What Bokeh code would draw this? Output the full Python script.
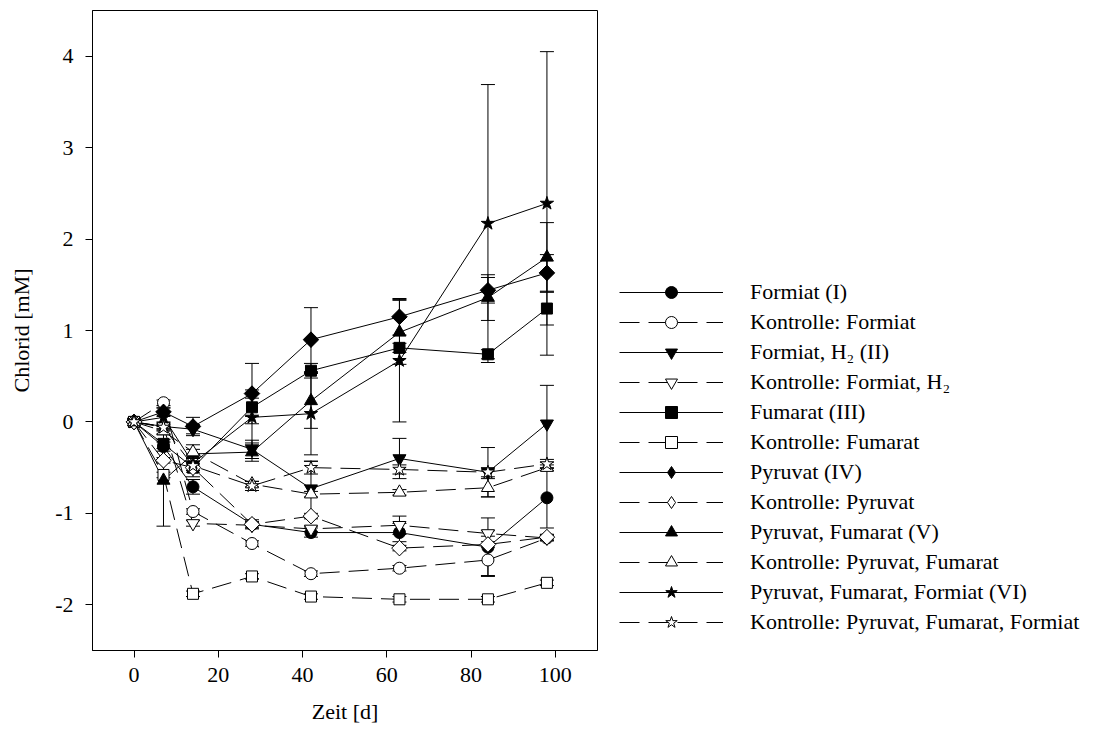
import math
from bokeh.plotting import figure
from bokeh.models import (ColumnDataSource, Whisker, TeeHead, Legend, LegendItem,
                          FixedTicker, Range1d)
from bokeh.embed import file_html
from bokeh.resources import INLINE

# ---- data ----
days = [0, 7, 14, 28, 42, 63, 84, 98]

labels = [
    "Formiat (I)",
    "Kontrolle: Formiat",
    "Formiat, H\u2082 (II)",
    "Kontrolle: Formiat, H\u2082",
    "Fumarat (III)",
    "Kontrolle: Fumarat",
    "Pyruvat (IV)",
    "Kontrolle: Pyruvat",
    "Pyruvat, Fumarat (V)",
    "Kontrolle: Pyruvat, Fumarat",
    "Pyruvat, Fumarat, Formiat (VI)",
    "Kontrolle: Pyruvat, Fumarat, Formiat",
]

formiat = [0, -0.27, -0.71, -1.12, -1.21, -1.21, -1.37, -0.83]
formiat_err = [0, 0.05, 0.08, 0.05, 0.05, 0.10, 0.32, 0.33]
k_formiat = [0, 0.21, -0.98, -1.33, -1.66, -1.60, -1.51, -1.27]
k_formiat_err = [0, 0.03, 0.03, 0.03, 0.03, 0.03, 0.17, 0.03]

formiat_h2 = [0, -0.05, -0.08, -0.30, -0.73, -0.40, -0.55, -0.02]
formiat_h2_err = [0, 0.05, 0.05, 0.10, 0.30, 0.22, 0.27, 0.42]
k_formiat_h2 = [0, -0.05, -1.11, -1.13, -1.17, -1.13, -1.22, -1.27]
k_formiat_h2_err = [0, 0.03, 0.03, 0.03, 0.03, 0.10, 0.03, 0.03]

fumarat = [0, -0.24, -0.50, 0.16, 0.56, 0.81, 0.74, 1.24]
fumarat_err = [0, 0.05, 0.10, 0.10, 0.08, 0.05, 0.05, 0.18]
k_fumarat = [0, -0.58, -1.88, -1.69, -1.91, -1.94, -1.94, -1.76]
k_fumarat_err = [0, 0.03, 0.03, 0.03, 0.03, 0.03, 0.03, 0.03]

pyruvat = [0, 0.11, -0.05, 0.31, 0.90, 1.15, 1.44, 1.63]
pyruvat_err = [0, 0.05, 0.10, 0.33, 0.35, 0.20, 0.14, 0.20]
k_pyruvat = [0, -0.42, -0.50, -1.12, -1.03, -1.38, -1.34, -1.26]
k_pyruvat_err = [0, 0.03, 0.03, 0.03, 0.03, 0.03, 0.03, 0.03]

pyr_fum = [0, -0.64, -0.35, -0.33, 0.23, 0.98, 1.36, 1.80]
pyr_fum_err = [0, 0.50, 0.10, 0.10, 0.30, 0.35, 0.25, 0.38]
k_pyr_fum = [0, -0.10, -0.33, -0.68, -0.79, -0.77, -0.72, -0.50]
k_pyr_fum_err = [0, 0.03, 0.03, 0.03, 0.03, 0.03, 0.10, 0.03]

pff = [0, 0.05, -0.45, 0.05, 0.09, 0.67, 2.17, 2.39]
pff_err = [0, 0.10, 0.10, 0.30, 0.45, 0.67, 1.52, 1.66]
k_pff = [0, -0.06, -0.48, -0.70, -0.50, -0.52, -0.55, -0.46]
k_pff_err = [0, 0.03, 0.05, 0.05, 0.07, 0.05, 0.05, 0.05]

# (values, errors, marker, filled, size, angle, legend marker)
series = [
    (formiat, formiat_err, "circle", True, 12, 0, "circle"),
    (k_formiat, k_formiat_err, "circle", False, 12, 0, "circle"),
    (formiat_h2, formiat_h2_err, "inverted_triangle", True, 13, 0, "inverted_triangle"),
    (k_formiat_h2, k_formiat_h2_err, "inverted_triangle", False, 13, 0, "inverted_triangle"),
    (fumarat, fumarat_err, "square", True, 11, 0, "square"),
    (k_fumarat, k_fumarat_err, "square", False, 11, 0, "square"),
    (pyruvat, pyruvat_err, "square", True, 11, math.pi / 4, "diamond"),
    (k_pyruvat, k_pyruvat_err, "square", False, 11, math.pi / 4, "diamond"),
    (pyr_fum, pyr_fum_err, "triangle", True, 13, 0, "triangle"),
    (k_pyr_fum, k_pyr_fum_err, "triangle", False, 13, 0, "triangle"),
    (pff, pff_err, "star", True, 14, 0, "star"),
    (k_pff, k_pff_err, "star", False, 14, 0, "star"),
]

FONT = "Liberation Serif"
FS = "22px"

p = figure(frame_width=505, frame_height=640, output_backend="svg",
           toolbar_location=None, min_border_left=92, min_border_top=10,
           min_border_bottom=86, min_border_right=0,
           x_range=Range1d(-9.85, 110.0), y_range=Range1d(-2.5, 4.5))
p.xgrid.visible = False
p.ygrid.visible = False
p.outline_line_color = "black"
p.outline_line_width = 1
p.background_fill_color = "white"
p.border_fill_color = "white"

for ax in (p.xaxis[0], p.yaxis[0]):
    ax.major_tick_in = 0
    ax.major_tick_out = 7
    ax.minor_tick_in = 0
    ax.minor_tick_out = 0
    ax.axis_line_color = "black"
    ax.major_tick_line_color = "black"
    ax.major_label_text_font = FONT
    ax.major_label_text_font_size = FS
    ax.major_label_text_color = "black"
    ax.axis_label_text_font = FONT
    ax.axis_label_text_font_size = FS
    ax.axis_label_text_font_style = "normal"
    ax.axis_label_text_color = "black"

p.xaxis.ticker = FixedTicker(ticks=[0, 20, 40, 60, 80, 100])
p.yaxis.ticker = FixedTicker(ticks=[-2, -1, 0, 1, 2, 3, 4])
p.yaxis.major_label_overrides = {-2: "-2", -1: "-1", 0: "0", 1: "1", 2: "2", 3: "3", 4: "4"}
p.xaxis.axis_label = "Zeit [d]"
p.yaxis.axis_label = "Chlorid [mM]"
p.xaxis.major_label_standoff = 10
p.yaxis.major_label_standoff = 12
p.xaxis.axis_label_standoff = 14
p.yaxis.axis_label_standoff = 18

line_rs = []
for vals, err, marker, filled, size, ang, lm in series:
    dash = "solid" if filled else "20 9"
    r = p.line(days, vals, line_color="black", line_width=1, line_dash=dash)
    line_rs.append(r)

for vals, err, marker, filled, size, ang, lm in series:
    t_e = [d for d, e in zip(days, err) if e > 0]
    up = [v + e for v, e in zip(vals, err) if e > 0]
    lo = [v - e for v, e in zip(vals, err) if e > 0]
    src = ColumnDataSource(dict(t=t_e, up=up, lo=lo))
    w = Whisker(base="t", upper="up", lower="lo", source=src,
                line_color="black", line_width=1,
                upper_head=TeeHead(size=14, line_color="black", line_width=1),
                lower_head=TeeHead(size=14, line_color="black", line_width=1))
    p.add_layout(w)

items = []
for (vals, err, marker, filled, size, ang, lm), lr, lab in zip(series, line_rs, labels):
    fc = "black" if filled else "white"
    leg_r = None
    if lm != marker:
        # diamond glyph for the legend, drawn beneath the rotated square (fully covered)
        leg_r = p.scatter(days, vals, marker=lm, size=15, line_color="black",
                          line_width=1, fill_color=fc)
    sr = p.scatter(days, vals, marker=marker, size=size, angle=ang, line_color="black",
                   line_width=1, fill_color=fc)
    items.append(LegendItem(label=lab, renderers=[lr, leg_r if leg_r is not None else sr]))

legend = Legend(items=items, location="bottom_left",
                glyph_width=104, glyph_height=30, label_height=20,
                label_standoff=27, spacing=0, padding=0, margin=0,
                label_text_font=FONT, label_text_font_size=FS,
                label_text_color="black", border_line_color=None,
                background_fill_alpha=0)
legend.location = (22, 13)
p.add_layout(legend, "right")

open("out.html", "w").write(file_html(p, INLINE))
